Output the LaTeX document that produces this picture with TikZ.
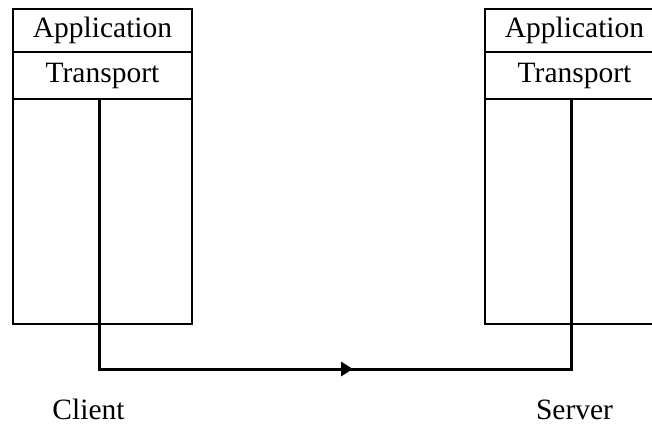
\documentclass[tikz,border=0pt]{standalone}
\usepackage{fontspec}
\setmainfont{Liberation Serif}
\usetikzlibrary{arrows.meta,decorations.markings}
\begin{document}
\begin{tikzpicture}[x=1pt,y=-1pt,
  layerbox/.style={draw,line width=1.5pt,minimum width=179pt,inner sep=0pt,outer sep=0pt,
    font=\fontsize{29.5pt}{32pt}\selectfont,text height=20pt,text depth=7pt},
  hostname/.style={anchor=base,inner sep=0pt,font=\fontsize{29.5pt}{32pt}\selectfont},
  link/.style={line width=3pt,
    postaction={decorate,decoration={markings,
      mark=at position 524pt with {\arrow{Triangle[length=12pt,width=14pt]}}}}}]
\useasboundingbox (0,0) rectangle (652,426);
\clip (0,0) rectangle (652,426);

% client stack
\node[layerbox,minimum height=43pt] (capp) at (102.5,30.5) {Application};
\node[layerbox,minimum height=47pt] (ctrans) at (102.5,75.5) {Transport};
\node[layerbox,minimum height=225pt] (cbody) at (102.5,211.5) {};

% server stack
\node[layerbox,minimum height=43pt] (sapp) at (574.5,30.5) {Application};
\node[layerbox,minimum height=47pt] (strans) at (574.5,75.5) {Transport};
\node[layerbox,minimum height=225pt] (sbody) at (574.5,211.5) {};

% host names
\node[hostname] (client) at (88.5,419) {Client};
\node[hostname] (server) at (574.5,419) {Server};

% path through the network
\coordinate (cstart) at (99,99);
\coordinate (cdown) at (99,369);
\coordinate (sdown) at (571,369);
\coordinate (send) at (571,99);
\draw[link] (cstart) -- (cdown) -- (sdown) -- (send);
\end{tikzpicture}
\end{document}
